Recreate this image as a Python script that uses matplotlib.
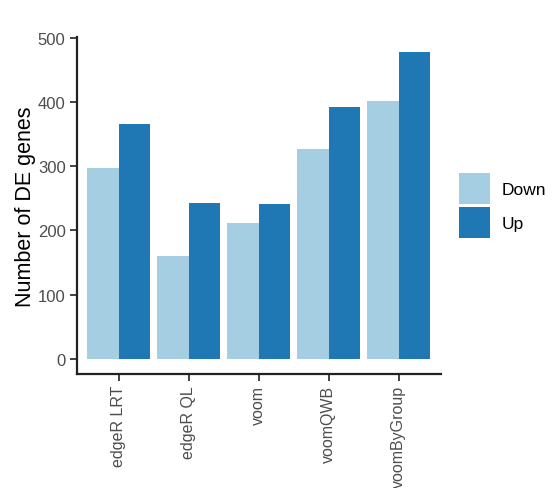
import numpy as np
import matplotlib.pyplot as plt

methods = ["edgeR LRT", "edgeR QL", "voom", "voomQWB", "voomByGroup"]
down = [297, 160, 211, 327, 402]
up = [366, 243, 242, 392, 478]
colors = {"Down": "#a6cee3", "Up": "#1f78b4"}

plt.rcParams['font.family'] = ['Liberation Sans', 'DejaVu Sans']

fig = plt.figure(figsize=(5.59, 4.89), dpi=100)
ax = fig.add_axes([76.7 / 559, 1 - 375 / 489, 364 / 559, (375 - 38) / 489])

x = np.arange(1, len(methods) + 1)
w = 0.45
ax.bar(x - w / 2, down, width=w, color=colors["Down"], label="Down")
ax.bar(x + w / 2, up, width=w, color=colors["Up"], label="Up")

ax.set_xlim(0.4, len(methods) + 0.6)
top = max(up)
ax.set_ylim(-0.05 * top, top * 1.05)
ax.set_yticks([0, 100, 200, 300, 400, 500])
ax.set_xticks(x)
ax.set_xticklabels(methods, rotation=90, va='top', ha='center')

for s in ['top', 'right']:
    ax.spines[s].set_visible(False)
for s in ['left', 'bottom']:
    ax.spines[s].set_linewidth(1.6)
    ax.spines[s].set_color('#222222')
ax.tick_params(axis='both', length=5, width=1.3, color='#333333',
               labelsize=11.5, labelcolor='#4d4d4d', pad=3)
ax.tick_params(axis='y', labelsize=12)
ax.set_ylabel("Number of DE genes", fontsize=15.5, color='black', labelpad=1)

leg = ax.legend(loc='center left', bbox_to_anchor=(1.03, 0.5), frameon=False,
                fontsize=12.5, handlelength=1.8, handleheight=2.4,
                handletextpad=0.7, labelspacing=0.15, borderaxespad=0)

fig.savefig("out.png", dpi=100)
